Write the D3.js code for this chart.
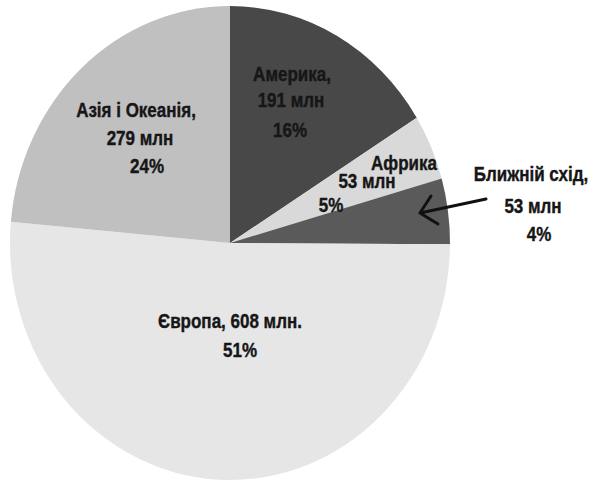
<!DOCTYPE html>
<html lang="uk">
<head>
<meta charset="utf-8">
<script src="https://d3js.org/d3.v7.min.js"></script>
<style>
  body { margin: 0; background: #fff; }
  text {
    font-family: "Liberation Sans", Arial, sans-serif;
    font-weight: bold;
    font-size: 20px;
    fill: #161616;
    stroke: #161616;
    stroke-width: 0.4px;
  }
</style>
</head>
<body>
<svg width="592" height="481"></svg>
<script>
// data, clockwise from 12 o'clock
var regions = ["Америка", "Африка", "Ближній схід", "Європа", "Азія і Океанія"];
var population = [191, 53, 53, 608, 279];       // млн
var shares = ["16%", "5%", "4%", "51%", "24%"];
var colors = ["#484848", "#d9d9d9", "#5a5a5a", "#e6e6e6", "#c0c0c0"];

// text lines for each slice
var labelLines = [
  [regions[0] + ",", population[0] + " млн", shares[0]],
  [regions[1], population[1] + " млн", shares[1]],
  [regions[2] + ",", population[2] + " млн", shares[2]],
  [regions[3] + ", " + population[3] + " млн.", shares[3]],
  [regions[4] + ",", population[4] + " млн", shares[4]]
];
// where each line sits (centre x, baseline y)
var labelPos = [
  [[292, 81], [291, 107], [290, 137]],
  [[404, 170], [367, 188], [331, 212]],
  [[531, 181], [533, 213], [539, 241]],
  [[230, 328], [240, 357]],
  [[136, 117], [140, 145], [147, 173]]
];
var narrow = 0.85; // squeeze glyphs, the source font is a narrow one

var svg = d3.select("svg");
var cx = 230, cy = 243, rx = 220, ry = 237;

var pie = d3.pie().sort(null).value(function(d) { return d; });
var arc = d3.arc().innerRadius(0).outerRadius(ry);

var g = svg.append("g")
    .attr("transform", "translate(" + cx + "," + cy + ") scale(" + (rx / ry) + ",1)");

g.selectAll("path")
  .data(pie(population))
  .enter().append("path")
    .attr("d", arc)
    .attr("fill", function(d, i) { return colors[i]; });

// labels
labelLines.forEach(function(lines, i) {
  lines.forEach(function(t, j) {
    svg.append("text")
      .attr("transform", "translate(" + labelPos[i][j][0] + "," + labelPos[i][j][1] + ") scale(" + narrow + ",1)")
      .attr("text-anchor", "middle")
      .text(t);
  });
});

// arrow pointing at the Близький схід slice
svg.append("path")
  .attr("d", "M486,199 L420,213 M431,196 L420,213 L438,224")
  .attr("fill", "none")
  .attr("stroke", "#111")
  .attr("stroke-width", 3)
  .attr("stroke-linecap", "round")
  .attr("stroke-linejoin", "round");
</script>
</body>
</html>
